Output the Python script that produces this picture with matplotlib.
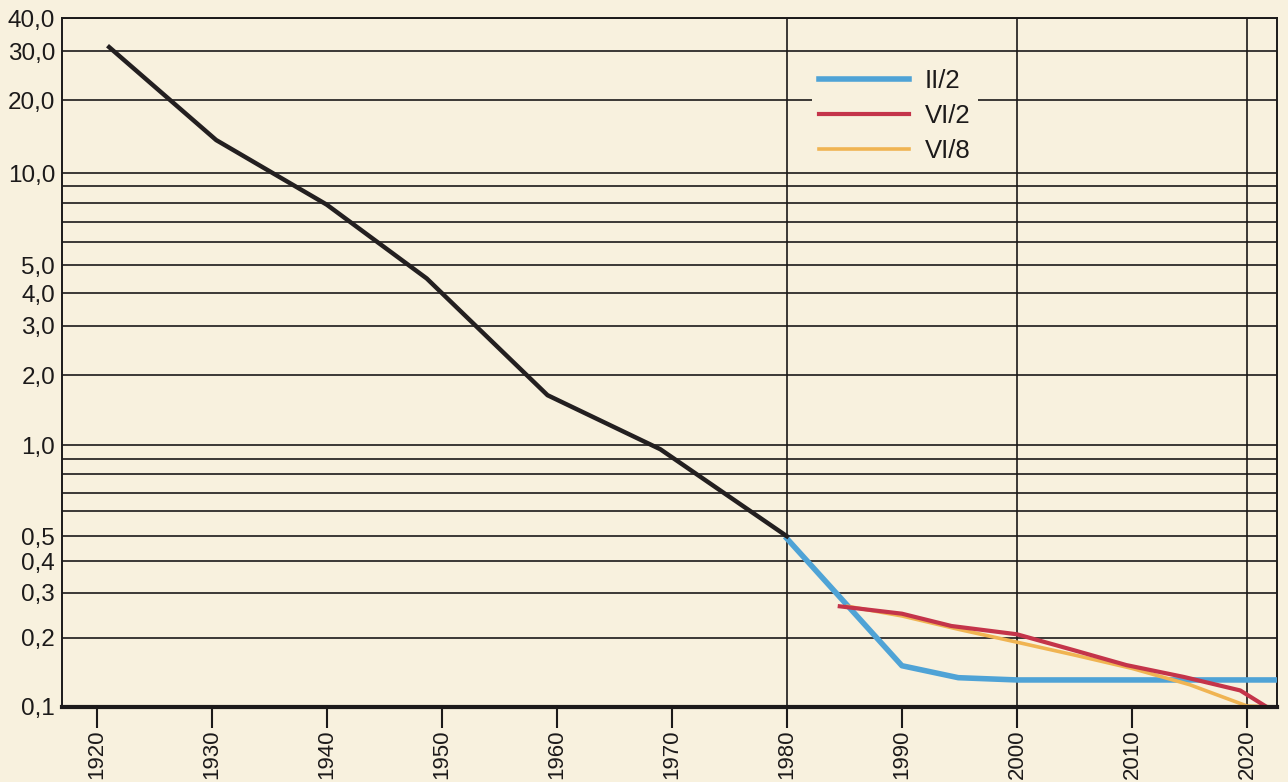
import numpy as np
import matplotlib
matplotlib.use("Agg")
import matplotlib.pyplot as plt

plt.rcParams['font.family'] = ['Liberation Sans', 'DejaVu Sans']

# ruling of the printed paper: gridline values and their height (px above 0.1 line)
grid_vals = [0.1, 0.2, 0.3, 0.4, 0.5, 0.6, 0.7, 0.8, 0.9, 1, 2, 3, 4, 5, 6, 7, 8, 9, 10, 20, 30, 40]
grid_h = [0, 69.4, 114.4, 145.7, 170.7, 195.7, 214.4, 232.4, 247.7, 261.7,
          331.7, 381, 413.4, 441.7, 464.7, 485, 504, 521, 533.4, 606.7, 655.4, 688.7]
labeled = [0.1, 0.2, 0.3, 0.4, 0.5, 1, 2, 3, 4, 5, 10, 20, 30, 40]

# series
black_x = [1921.1, 1930.4, 1940.0, 1948.7, 1959.2, 1969.0, 1980.0]
black_y = [31.1, 13.7, 7.9, 4.5, 1.64, 0.97, 0.5]

ii2_x = [1980.0, 1990.0, 1994.9, 2000.0, 2010.0, 2022.6]
ii2_y = [0.49, 0.151, 0.134, 0.131, 0.131, 0.131]

vi2_x = [1984.6, 1990.0, 1994.3, 2000.0, 2005.0, 2009.5, 2014.5, 2019.4, 2022.0]
vi2_y = [0.265, 0.248, 0.222, 0.206, 0.176, 0.152, 0.135, 0.118, 0.098]

vi8_x = [1985.3, 1990.0, 1995.0, 2000.0, 2005.0, 2010.0, 2015.0, 2020.0, 2022.6]
vi8_y = [0.265, 0.243, 0.215, 0.191, 0.168, 0.147, 0.125, 0.101, 0.1]

legend_labels = ['II/2', 'VI/2', 'VI/8']
decades = list(range(1920, 2030, 10))

# scale helpers
glog = np.log10(grid_vals)
ext_log = np.concatenate([[-4], glog, [4]])
slope_lo = grid_h[1] / (glog[1] - glog[0])
slope_hi = (grid_h[-1] - grid_h[-2]) / (glog[-1] - glog[-2])
ext_h = np.concatenate([[grid_h[0] - slope_lo * (glog[0] + 4)], grid_h,
                        [grid_h[-1] + slope_hi * (4 - glog[-1])]])


def fwd(v):
    v = np.clip(np.asarray(v, dtype=float), 1e-4, 1e4)
    return np.interp(np.log10(v), ext_log, ext_h)


def inv(h):
    return 10 ** np.interp(np.asarray(h, dtype=float), ext_h, ext_log)


bg = '#f8f1de'
ink = '#1c1a1a'

fig = plt.figure(figsize=(12.88, 7.82), dpi=100, facecolor=bg)
ax = fig.add_axes([62 / 1288, 75 / 782, 1215 / 1288, 689 / 782])
ax.set_facecolor(bg)
ax.set_yscale('function', functions=(fwd, inv))
ax.set_xlim(1917.0, 2022.6)
ax.set_ylim(0.1, 40)

ax.set_yticks(grid_vals)
ax.set_yticklabels([(f'{v:.1f}'.replace('.', ',') if v in labeled else '') for v in grid_vals])
ax.yaxis.set_minor_locator(matplotlib.ticker.NullLocator())
ax.tick_params(axis='y', length=0, pad=5, labelsize=17.5, colors=ink)
ax.grid(axis='y', color=ink, lw=1.2)

ax.set_xticks(decades)
ax.set_xticklabels([str(d) for d in decades], rotation=90)
ax.tick_params(axis='x', length=15, width=1.5, pad=1, labelsize=16, colors=ink)
for yr in [1980, 2000, 2020]:
    ax.axvline(yr, color=ink, lw=1.2, zorder=1)

for side in ['left', 'right', 'top']:
    ax.spines[side].set_color(ink)
    ax.spines[side].set_linewidth(1.4)
ax.spines['bottom'].set_color(ink)
ax.spines['bottom'].set_linewidth(3)
ax.spines['bottom'].set_zorder(6)

ax.plot(black_x, black_y, color='#231f20', lw=3.2, solid_joinstyle='round', zorder=4)
l1, = ax.plot(ii2_x, ii2_y, color='#4fa3d6', lw=4, solid_joinstyle='round', zorder=3)
l3, = ax.plot(vi8_x, vi8_y, color='#f0b452', lw=2.6, solid_joinstyle='round', zorder=3.5)
l2, = ax.plot(vi2_x, vi2_y, color='#c4344a', lw=3, solid_joinstyle='round', zorder=3.6)

leg = ax.legend([l1, l2, l3], legend_labels, loc='upper left', bbox_to_anchor=(0.617, 0.937),
                borderaxespad=0, frameon=True, fancybox=False, facecolor=bg, edgecolor='none',
                framealpha=1, fontsize=18.5, handlelength=3.5, handletextpad=0.6,
                labelspacing=0.42, borderpad=0.3)
for t in leg.get_texts():
    t.set_color(ink)
leg.set_zorder(5)

fig.savefig('out.png', dpi=100, facecolor=bg)
